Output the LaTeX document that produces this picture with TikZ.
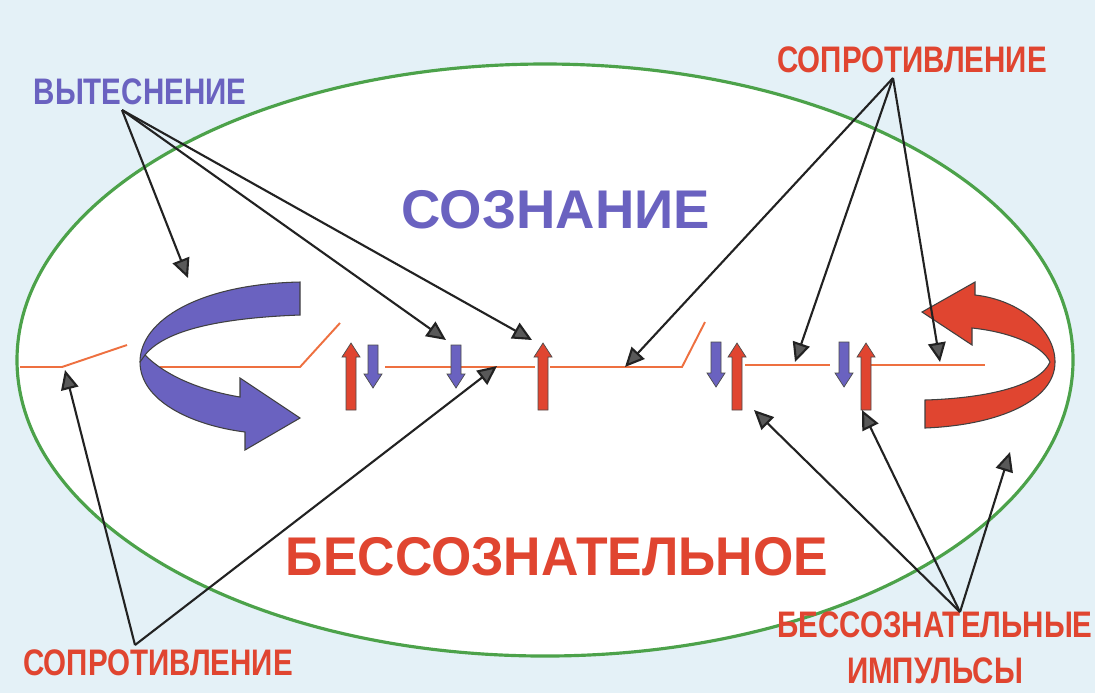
\documentclass[tikz,border=0pt]{standalone}
\usepackage{fontspec}
\setmainfont{Liberation Sans}
\usetikzlibrary{arrows.meta}
\definecolor{bg}{HTML}{E4F1F7}
\definecolor{grn}{HTML}{4CA24A}
\definecolor{bl}{HTML}{6A62C0}
\definecolor{rd}{HTML}{E04530}
\definecolor{orl}{HTML}{EE7040}
\definecolor{ptr}{HTML}{222222}
\tikzset{
  lbl/.style={inner sep=0pt},
  small/.style={font=\bfseries\fontsize{10.5}{12}\selectfont, xscale=0.8},
  big/.style={font=\bfseries\fontsize{15.5}{18}\selectfont},
  ptrline/.style={draw=ptr, line width=0.6pt, -{Triangle[length=5.5pt,width=5pt,fill=gray!70!black]}},
  sw/.style={draw=orl, line width=0.55pt},
  upar/.style={fill=rd, draw=gray!60!black, line width=0.2pt},
  dnar/.style={fill=bl, draw=gray!60!black, line width=0.2pt},
}
\newcommand{\uparr}[3]{\filldraw[upar] (#1-5,#3) -- (#1-5,#2+14) -- (#1-9,#2+14) -- (#1,#2) -- (#1+9,#2+14) -- (#1+5,#2+14) -- (#1+5,#3) -- cycle;}
\newcommand{\dnarr}[3]{\filldraw[dnar] (#1-5,#2) -- (#1-5,#3-14) -- (#1-9,#3-14) -- (#1,#3) -- (#1+9,#3-14) -- (#1+5,#3-14) -- (#1+5,#2) -- cycle;}
\begin{document}
\begin{tikzpicture}[x=0.01cm,y=-0.01cm]
\fill[bg] (0,0) rectangle (1095,693);
\useasboundingbox (0,0) rectangle (1095,693);
\filldraw[fill=white, draw=grn, line width=0.9pt] (545,360) ellipse [x radius=528, y radius=296];
% texts
\node[lbl, small, text=bl] (vyt) at (140,92) {ВЫТЕСНЕНИЕ};
\node[lbl, small, text=rd] (sopT) at (912,60) {СОПРОТИВЛЕНИЕ};
\node[lbl, big, text=bl] (soz) at (556,210) {СОЗНАНИЕ};
\node[lbl, big, text=rd, xscale=0.95] (bes) at (557,557) {БЕССОЗНАТЕЛЬНОЕ};
\node[lbl, small, text=rd] (sopB) at (158,663) {СОПРОТИВЛЕНИЕ};
\node[lbl, small, text=rd, align=center] (imp) at (935,648) {БЕССОЗНАТЕЛЬНЫЕ\\[1pt]ИМПУЛЬСЫ};
% switch line
\draw[sw] (20,367) -- (62,367) -- (127,345);
\draw[sw] (160,367) -- (300,367) -- (340,323);
\draw[sw] (385,367) -- (535,367);
\draw[sw] (550,367) -- (682,367) -- (705,322);
\draw[sw] (745,365) -- (830,365);
\draw[sw] (870,365) -- (985,365);
% curved arrows
\filldraw[fill=bl, draw=gray!50!black, line width=0.3pt]
 (300,282) -- (300,315) .. controls (220,318) and (165,330) .. (145,355)
 .. controls (170,380) and (210,392) .. (240,397) -- (240,378) -- (300,418) -- (245,450) -- (245,432)
 .. controls (190,425) and (140,400) .. (140,362) .. controls (140,320) and (200,284) .. cycle;
\draw[gray!50!black, line width=0.3pt] (145,355) -- (140,362);
\filldraw[fill=rd, draw=gray!50!black, line width=0.3pt]
 (925,400) -- (925,428) .. controls (1000,425) and (1055,400) .. (1055,362)
 .. controls (1055,330) and (1020,300) .. (975,295) -- (975,282) -- (922,312) -- (972,345) -- (972,328)
 .. controls (1010,332) and (1042,345) .. (1050,362) .. controls (1040,385) and (990,398) .. cycle;
% small arrows
\uparr{351}{343}{410}
\dnarr{373}{345}{388}
\dnarr{456}{345}{388}
\uparr{543}{343}{410}
\dnarr{716}{342}{387}
\uparr{737}{343}{410}
\dnarr{844}{342}{387}
\uparr{866}{343}{410}
% pointer lines
\coordinate (pv) at (122,110);
\coordinate (pt) at (893,78);
\coordinate (pb) at (135,645);
\coordinate (pi) at (960,612);
\coordinate (v1) at (188,278); \coordinate (v2) at (446,340); \coordinate (v3) at (532,340);
\coordinate (t1) at (625,367); \coordinate (t2) at (795,362); \coordinate (t3) at (940,362);
\coordinate (b1) at (65,370); \coordinate (b2) at (497,366);
\coordinate (i1) at (754,410); \coordinate (i2) at (862,410); \coordinate (i3) at (1010,452);
\foreach \e in {v1,v2,v3} \draw[ptrline] (pv) -- (\e);
\foreach \e in {t1,t2,t3} \draw[ptrline] (pt) -- (\e);
\foreach \e in {b1,b2} \draw[ptrline] (pb) -- (\e);
\foreach \e in {i1,i2,i3} \draw[ptrline] (pi) -- (\e);
\end{tikzpicture}
\end{document}
